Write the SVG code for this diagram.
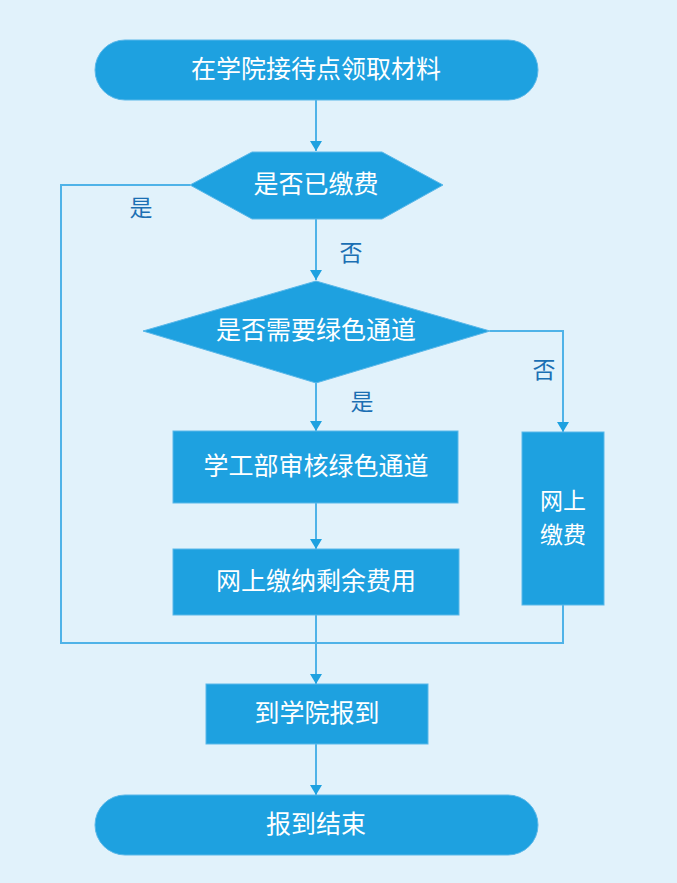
<svg xmlns="http://www.w3.org/2000/svg" width="677" height="883" viewBox="0 0 677 883">
<defs>
<style>
.n{fill:#1ea1e0;stroke:#5ab8e9;stroke-width:1}
.t{fill:#ffffff;font-family:"Noto Sans CJK SC","Noto Sans",sans-serif;font-size:25px;text-anchor:middle;dominant-baseline:central}
.l{fill:#1b6fb3;font-family:"Noto Sans CJK SC","Noto Sans",sans-serif;font-size:23px;text-anchor:middle;dominant-baseline:central}
.c{fill:none;stroke:#4fb3e8;stroke-width:2}
</style>
<marker id="a" viewBox="0 0 10 12" refX="10" refY="6" markerWidth="10" markerHeight="12" markerUnits="userSpaceOnUse" orient="auto">
<path d="M0,0 L10,6 L0,12 Z" fill="#1ea1e0"/>
</marker>
</defs>
<rect width="677" height="883" fill="#e1f2fb"/>
<g id="connectors">
<line class="c" x1="316" y1="100" x2="316" y2="151" marker-end="url(#a)"/>
<line class="c" x1="316" y1="219" x2="316" y2="280" marker-end="url(#a)"/>
<line class="c" x1="316" y1="383" x2="316" y2="431" marker-end="url(#a)"/>
<polyline class="c" points="490,331 563,331 563,432" marker-end="url(#a)"/>
<line class="c" x1="316" y1="503" x2="316" y2="549" marker-end="url(#a)"/>
<polyline class="c" points="190,185 61,185 61,643 563,643 563,605"/>
<line class="c" x1="316" y1="615" x2="316" y2="684" marker-end="url(#a)"/>
<line class="c" x1="316" y1="744" x2="316" y2="795" marker-end="url(#a)"/>
<text class="l" x="141" y="206">是</text>
<text class="l" x="351" y="251">否</text>
<text class="l" x="544" y="368">否</text>
<text class="l" x="362" y="400">是</text>
</g>
<g id="start">
<rect class="n" x="95" y="40" width="443" height="60" rx="30"/>
<text class="t" x="316" y="67">在学院接待点领取材料</text>
</g>
<g id="paid">
<polygon class="n" points="190,185 252,152 382,152 443,185 382,219 252,219"/>
<text class="t" x="316" y="182">是否已缴费</text>
</g>
<g id="green">
<polygon class="n" points="143,331 316,281 490,331 316,383"/>
<text class="t" x="316" y="328">是否需要绿色通道</text>
</g>
<g id="review">
<rect class="n" x="173" y="431" width="285" height="72"/>
<text class="t" x="316" y="464">学工部审核绿色通道</text>
</g>
<g id="payrest">
<rect class="n" x="173" y="549" width="286" height="66"/>
<text class="t" x="316" y="579">网上缴纳剩余费用</text>
</g>
<g id="payonline">
<rect class="n" x="522" y="432" width="82" height="173"/>
<text class="t" x="563" y="499" style="font-size:23px">网上<tspan x="563" dy="34">缴费</tspan></text>
</g>
<g id="report">
<rect class="n" x="206" y="684" width="222" height="60"/>
<text class="t" x="317" y="711">到学院报到</text>
</g>
<g id="end">
<rect class="n" x="95" y="795" width="443" height="60" rx="30"/>
<text class="t" x="316" y="822">报到结束</text>
</g>
</svg>
